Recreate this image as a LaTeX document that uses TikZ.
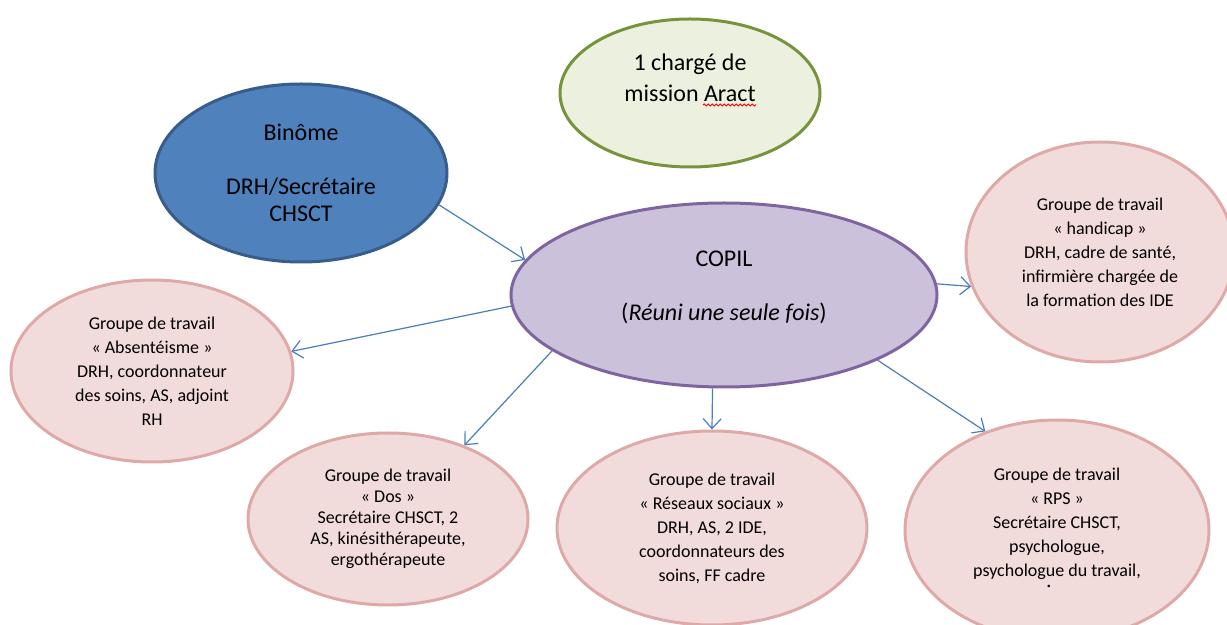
\documentclass[tikz,border=0pt]{standalone}
\usepackage{fontspec}
\setmainfont{Carlito}
\usetikzlibrary{shapes.geometric,arrows.meta,decorations.pathmorphing}

\definecolor{copilfill}{HTML}{CCC1DA}
\definecolor{copilline}{HTML}{8064A2}
\definecolor{binomefill}{HTML}{4F81BD}
\definecolor{binomeline}{HTML}{385D8A}
\definecolor{aractfill}{HTML}{EBF1DE}
\definecolor{aractline}{HTML}{77933C}
\definecolor{groupfill}{HTML}{F2DCDB}
\definecolor{groupline}{HTML}{DFA9A7}
\definecolor{arrowblue}{HTML}{4A7EBB}

\begin{document}
\begin{tikzpicture}[x=0.5pt, y=-0.5pt]
  \tikzset{
    bignode/.style={
      draw, ellipse, line width=1.5pt, inner sep=0pt, align=center,
      font=\fontsize{12}{13.5}\selectfont
    },
    copilnode/.style={
      bignode, fill=copilfill, draw=copilline
    },
    binomenode/.style={
      bignode, fill=binomefill, draw=binomeline
    },
    aractnode/.style={
      bignode, fill=aractfill, draw=aractline,
      font=\fontsize{12}{15.5}\selectfont
    },
    groupnode/.style={
      bignode, fill=groupfill, draw=groupline,
      font=\fontsize{9}{12}\selectfont
    },
    arr/.style={
      draw=arrowblue, line width=0.6pt,
      -{Straight Barb[length=5pt, width=9pt]}
    }
  }

  \useasboundingbox[fill=white] (0,0) rectangle (1227,625);

  \node [aractnode, minimum width=130pt, minimum height=74pt] (aract) at (690,93)
    {1 chargé de\\mission Aract\\[-0.5pt]};
  \node [binomenode, minimum width=146pt, minimum height=89pt] (binome) at (301,173)
    {Binôme\\[13.5pt]DRH/Secrétaire\\CHSCT};
  \node [copilnode, minimum width=213pt, minimum height=92pt] (copil) at (724,295)
    {COPIL\\[13.5pt](\textit{Réuni une seule fois})\\[-4.5pt]};

  \node [groupnode, minimum width=134pt, minimum height=110pt] (handicap) at (1100,252)
    {Groupe de travail\\« handicap »\\DRH, cadre de santé,\\infirmière chargée de\\la formation des IDE};
  \node [groupnode, minimum width=141pt, minimum height=91pt] (abs) at (152,371)
    {Groupe de travail\\« Absentéisme »\\DRH, coordonnateur\\des soins, AS, adjoint\\RH};
  \node [groupnode, minimum width=140pt, minimum height=86pt,
         font=\fontsize{9}{10.5}\selectfont] (dos) at (388,519)
    {Groupe de travail\\« Dos »\\Secrétaire CHSCT, 2\\AS, kinésithérapeute,\\ergothérapeute};
  \node [groupnode, minimum width=155pt, minimum height=97pt] (reseaux) at (712,528)
    {Groupe de travail\\« Réseaux sociaux »\\DRH, AS, 2 IDE,\\coordonnateurs des\\soins, FF cadre};
  \node [groupnode, minimum width=152pt, minimum height=110pt] (rps) at (1057,530)
    {Groupe de travail\\« RPS »\\Secrétaire CHSCT,\\psychologue,\\psychologue du travail,\\[-4.5pt]\kern-8pt·};

  % spell-check mark under Aract
  \draw [red, line width=0.5pt, decorate, decoration={snake, amplitude=0.5pt, segment length=2pt}]
    ([shift={(13,12)}]aract.center) -- ([shift={(66,12)}]aract.center);

  \path (binome.-13) edge [arr] (copil.170);
  \foreach \from/\to/\dest in {183.5/8/abs, 198/44/dos, 263/90/reseaux, 3/195/handicap, -23.5/126/rps} {
    \path (copil.\from) edge [arr] (\dest.\to);
  }
\end{tikzpicture}
\end{document}
